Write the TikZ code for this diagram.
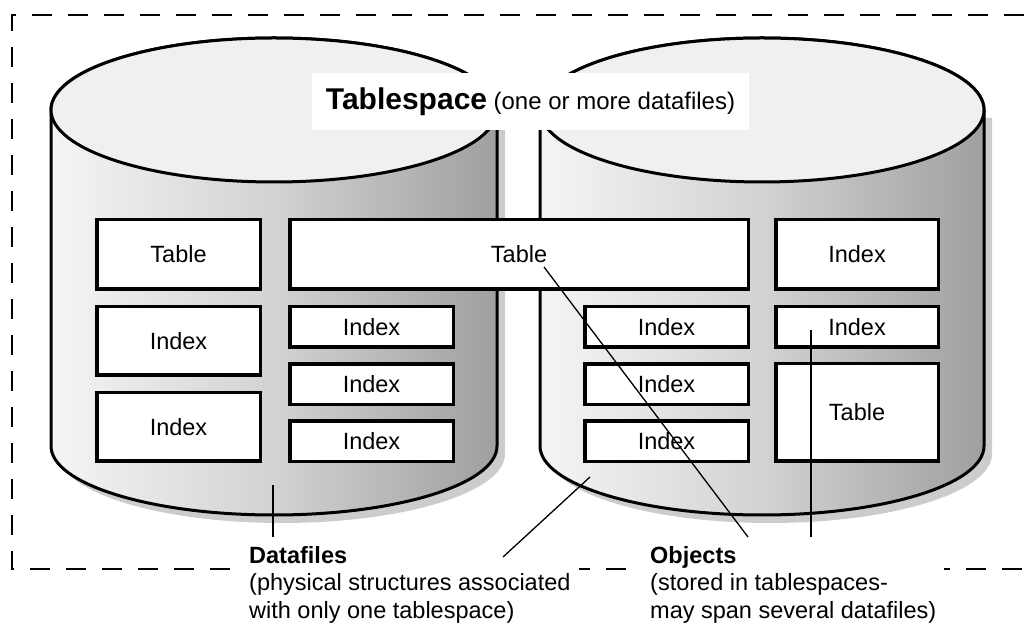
\documentclass[tikz,border=0pt]{standalone}
\usepackage{fontspec}
\setmainfont{Liberation Sans}
\begin{document}
\begin{tikzpicture}[x=1pt,y=1pt]
	\tikzstyle{every node}+=[inner sep=0pt, font=\fontsize{23.5}{27.5}\selectfont]
	\tikzstyle{box}=[draw=black, line width=3.5pt, fill=white]
	\tikzstyle{cyl}=[draw=black, line width=3pt, left color=gray!8, right color=gray!75, middle color=gray!35]
	\tikzstyle{cyltop}=[draw=black, line width=3pt, fill=gray!12]
	\tikzstyle{pointer}=[black, line width=1.3pt]
	\tikzstyle{note}=[fill=white, inner xsep=8pt, inner ysep=4pt, align=left, anchor=north west]
	\useasboundingbox (0,0) rectangle (1024,623);
	\draw [black, line width=1.5pt, dash pattern=on 20pt off 16pt] (1024,608) -- (12,608) -- (12,54) -- (1024,54);
	\fill [gray!40] (59,505) -- (59,169) arc (180:360:223 and 69) -- (505,505) -- cycle;
	\fill [gray!40] (548,505) -- (548,169) arc (180:360:222 and 69) -- (992,505) -- cycle;
	\draw [cyl] (51,513) -- (51,177) arc (180:360:223 and 69) -- (497,513) arc (0:180:223 and 72) -- cycle;
	\draw [cyltop] (274,513) ellipse (223 and 72);
	\draw [cyl] (540,513) -- (540,177) arc (180:360:222 and 69) -- (984,513) arc (0:180:222 and 72) -- cycle;
	\draw [cyltop] (762,513) ellipse (222 and 72);
	\node [fill=white, minimum width=437pt, minimum height=57pt] (tablespace) at (530.5,521.5) {{\fontsize{30}{34}\selectfont\bfseries Tablespace} {\fontsize{24}{28}\selectfont(one or more datafiles)}};
	\node [box, minimum width=163.5pt, minimum height=69.5pt] (tableA) at (178.5,368.5) {Table};
	\node [box, minimum width=458.5pt, minimum height=69.5pt] (tableB) at (519,368.5) {Table};
	\node [box, minimum width=162.5pt, minimum height=69.5pt] (indexA) at (857,368.5) {Index};
	\node [box, minimum width=163.5pt, minimum height=68.5pt] (indexB) at (178.5,282) {Index};
	\node [box, minimum width=163.5pt, minimum height=68.5pt] (indexC) at (178.5,196) {Index};
	\node [box, minimum width=163.5pt, minimum height=40.5pt] (indexD) at (371.5,296) {Index};
	\node [box, minimum width=163.5pt, minimum height=40.5pt] (indexE) at (371.5,238.5) {Index};
	\node [box, minimum width=163.5pt, minimum height=40.5pt] (indexF) at (371.5,181.5) {Index};
	\node [box, minimum width=163.5pt, minimum height=40.5pt] (indexG) at (666.5,296) {Index};
	\node [box, minimum width=163.5pt, minimum height=40.5pt] (indexH) at (666.5,238.5) {Index};
	\node [box, minimum width=163.5pt, minimum height=40.5pt] (indexI) at (666.5,181.5) {Index};
	\node [box, minimum width=162.5pt, minimum height=40.5pt] (indexJ) at (857,296) {Index};
	\node [box, minimum width=162.5pt, minimum height=97.5pt] (tableC) at (857,210.5) {Table};
	\node [note] (datafiles) at (241,81) {\textbf{Datafiles}\\(physical structures associated\\with only one tablespace)};
	\node [note] (objects) at (642,81) {\textbf{Objects}\\(stored in tablespaces-\\may span several datafiles)};
	\coordinate (dfTop) at (273,138);
	\coordinate (dfFoot) at (273,86);
	\coordinate (dfSlant) at (590,146);
	\coordinate (dfSlantFoot) at (503,66);
	\coordinate (objTable) at (544,356);
	\coordinate (objFoot) at (748,86);
	\coordinate (objIndex) at (811,293);
	\coordinate (objIndexFoot) at (811,86);
	\draw [pointer] (dfFoot) -- (dfTop);
	\draw [pointer] (dfSlantFoot) -- (dfSlant);
	\draw [pointer] (objFoot) -- (objTable);
	\draw [pointer] (objIndexFoot) -- (objIndex);
\end{tikzpicture}
\end{document}
